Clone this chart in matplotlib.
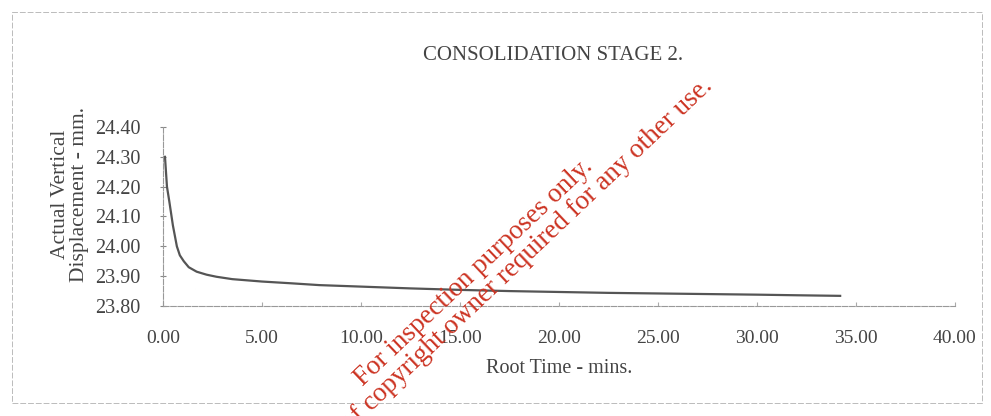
import matplotlib
matplotlib.use("Agg")
import matplotlib.pyplot as plt
from matplotlib.patches import Rectangle

# root time (mins) vs actual vertical displacement (mm)
root_time = [0.10, 0.20, 0.32, 0.50, 0.70, 0.85, 1.05, 1.30, 1.70, 2.20, 2.70,
             3.50, 5.00, 6.50, 7.90, 10.00, 12.50, 15.00, 17.50, 20.00, 22.50,
             25.00, 27.50, 30.00, 32.00, 34.20]
displacement = [24.30, 24.20, 24.15, 24.07, 24.00, 23.97, 23.95, 23.93, 23.915,
                23.905, 23.898, 23.890, 23.882, 23.876, 23.870, 23.865, 23.859,
                23.854, 23.850, 23.847, 23.844, 23.842, 23.840, 23.838, 23.836,
                23.834]

x_ticks = [0, 5, 10, 15, 20, 25, 30, 35, 40]
y_ticks = [23.80, 23.90, 24.00, 24.10, 24.20, 24.30, 24.40]

W, H = 991, 416
plt.rcParams['font.family'] = ['Liberation Serif', 'DejaVu Serif']

fig = plt.figure(figsize=(W / 100, H / 100), dpi=100)
ax = fig.add_axes([163 / W, 1 - 306 / H, (955 - 163) / W, (306 - 127) / H])

ax.plot(root_time, displacement, color='#555555', lw=1.6)

ax.set_xlim(0, 40)
ax.set_ylim(23.80, 24.40)
ax.set_xticks(x_ticks)
ax.set_xticklabels([f"{v:.2f}" for v in x_ticks])
ax.set_yticks(y_ticks)
ax.set_yticklabels([f"{v:.2f}" for v in y_ticks])

for s in ['top', 'right']:
    ax.spines[s].set_visible(False)
for s in ['left', 'bottom']:
    ax.spines[s].set_color('#999999')
    ax.spines[s].set_linestyle((0, (5, 1.5)))
    ax.spines[s].set_linewidth(0.8)

ax.tick_params(axis='y', direction='inout', length=4, color='#888888',
               labelsize=14.5, labelcolor='#444444', pad=14)
ax.tick_params(axis='x', direction='in', length=3, color='#aaaaaa',
               labelsize=14, labelcolor='#444444', pad=17)

ax.set_xlabel("Root Time - mins.", fontsize=14.5, color='#444444', labelpad=9)

fig.text(553 / W, 1 - 56 / H, "CONSOLIDATION STAGE 2.", ha='center', va='center',
         fontsize=15, color='#444444')
fig.text(70 / W, 1 - 194 / H, "Actual Vertical\nDisplacement - mm.", ha='center',
         va='center', rotation=90, fontsize=15.5, color='#444444', linespacing=1.0)

# scanned page border
fig.patches.append(Rectangle((12 / W, 1 - 403 / H), (982 - 12) / W, (403 - 12) / H,
                             transform=fig.transFigure, fill=False,
                             edgecolor='#bbbbbb', lw=0.7, ls=(0, (6, 2))))

# watermark
fig.text(363 / W, 1 - 387 / H, "For inspection purposes only.", ha='left',
         va='baseline', rotation=43.5, rotation_mode='anchor', fontsize=19.5,
         color='#cc3322')
fig.text(713 / W, 1 - 87 / H, "Consent of copyright owner required for any other use.",
         ha='right', va='baseline', rotation=43.5, rotation_mode='anchor',
         fontsize=19.5, color='#cc3322')

fig.savefig("out.png", dpi=100)
